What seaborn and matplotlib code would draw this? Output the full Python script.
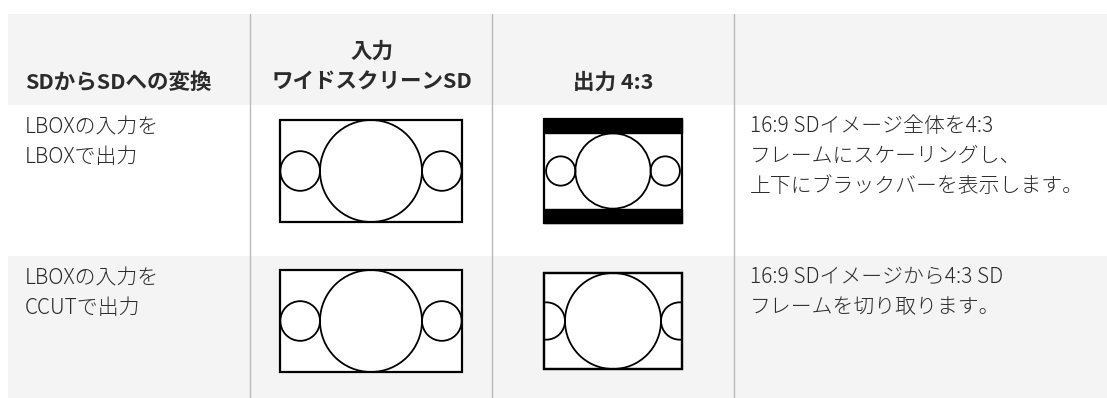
import matplotlib
matplotlib.use("Agg")
import matplotlib.pyplot as plt
import matplotlib.patches as mpatches
import seaborn as sns

sns.set_theme(style="white")
plt.rcParams['font.family'] = ['Noto Sans CJK JP', 'DejaVu Sans']

# ---- data ----
header_labels = ["SDからSDへの変換", "入力\nワイドスクリーンSD", "出力 4:3", ""]
row_labels = ["LBOXの入力を\nLBOXで出力", "LBOXの入力を\nCCUTで出力"]
output_modes = ["LBOX", "CCUT"]
descriptions = ["16:9 SDイメージ全体を4:3\nフレームにスケーリングし、\n上下にブラックバーを表示します。",
                "16:9 SDイメージから4:3 SD\nフレームを切り取ります。"]
input_aspect = 16 / 9
output_aspect = 4 / 3

W, H = 1107, 398
fig = plt.figure(figsize=(W / 100, H / 100), dpi=100)
ax = fig.add_axes([0, 0, 1, 1])
ax.set_xlim(0, W)
ax.set_ylim(H, 0)
ax.axis("off")

BG = "#f4f4f4"
LINE = "#b9b9b9"
TXT = "#2b2b2b"

# layout
col_edges = [8, 250, 492, 734, 1107]
header_top, header_bot = 14, 105
row_edges = [105, 256, 398]

# background bands
ax.add_patch(mpatches.Rectangle((col_edges[0], header_top), col_edges[-1] - col_edges[0],
                                header_bot - header_top, facecolor=BG, edgecolor="none", zorder=0))
ax.add_patch(mpatches.Rectangle((col_edges[0], row_edges[1]), col_edges[-1] - col_edges[0],
                                row_edges[2] - row_edges[1], facecolor=BG, edgecolor="none", zorder=0))
for x in col_edges[1:4]:
    ax.plot([x, x], [header_top, H], color=LINE, lw=1.0, zorder=1)

# header text
fs_h = 15.5
fs = 15
ax.text(25, 82, header_labels[0], fontsize=fs_h, fontweight="bold", color=TXT, va="center", ha="left")
cx1 = (col_edges[1] + col_edges[2]) / 2
ax.text(cx1 + 1, 51, header_labels[1].split("\n")[0], fontsize=fs_h, fontweight="bold", color=TXT, va="center", ha="center")
ax.text(cx1 + 1, 82, header_labels[1].split("\n")[1], fontsize=fs_h, fontweight="bold", color=TXT, va="center", ha="center")
cx2 = (col_edges[2] + col_edges[3]) / 2
ax.text(cx2, 82, header_labels[2], fontsize=fs_h, fontweight="bold", color=TXT, va="center", ha="center")


def draw_image(ax, cx, cy, h, clip=None):
    """16:9 test image: big circle + two small side circles, height h."""
    w = h * input_aspect
    rs = (w - h) / 4
    off = h / 2 + rs
    pats = [mpatches.Circle((cx, cy), h / 2),
            mpatches.Circle((cx - off, cy), rs),
            mpatches.Circle((cx + off, cy), rs)]
    for p in pats:
        p.set_facecolor("none")
        p.set_edgecolor("black")
        p.set_linewidth(1.3)
        p.set_zorder(3)
        ax.add_patch(p)
        if clip is not None:
            p.set_clip_path(clip)


row_centers = [171, 321]
in_h = 102
out_w = 138
for i, (lab, mode, desc) in enumerate(zip(row_labels, output_modes, descriptions)):
    top = row_edges[i]
    for j, line in enumerate(lab.split("\n")):
        ax.text(25, top + 22 + 30 * j, line, fontsize=fs, fontweight="light", color=TXT, va="center", ha="left")
    for j, line in enumerate(desc.split("\n")):
        ax.text(750, top + 21 + 30 * j, line, fontsize=fs, fontweight="light", color=TXT, va="center", ha="left")

    cy = row_centers[i]
    # input 16:9
    iw = in_h * input_aspect
    ax.add_patch(mpatches.Rectangle((cx1 - iw / 2, cy - in_h / 2), iw, in_h, facecolor="white",
                                    edgecolor="black", lw=1.6, zorder=2))
    draw_image(ax, cx1, cy, in_h)

    # output 4:3
    if mode == "LBOX":
        oh = out_w / output_aspect
        inner_h = out_w / input_aspect * 0.97
        bar = (oh - inner_h) / 2
        rect = mpatches.Rectangle((cx2 - out_w / 2, cy - oh / 2), out_w, oh, facecolor="white",
                                  edgecolor="black", lw=1.6, zorder=2)
        ax.add_patch(rect)
        ax.add_patch(mpatches.Rectangle((cx2 - out_w / 2, cy - oh / 2), out_w, bar,
                                        facecolor="black", edgecolor="black", lw=1.0, zorder=4))
        ax.add_patch(mpatches.Rectangle((cx2 - out_w / 2, cy + oh / 2 - bar), out_w, bar,
                                        facecolor="black", edgecolor="black", lw=1.0, zorder=4))
        draw_image(ax, cx2, cy, inner_h)
    else:
        oh = 96
        rect = mpatches.Rectangle((cx2 - out_w / 2, cy - oh / 2), out_w, oh, facecolor="white",
                                  edgecolor="black", lw=1.6, zorder=2)
        ax.add_patch(rect)
        clip = mpatches.Rectangle((cx2 - out_w / 2, cy - oh / 2), out_w, oh, transform=ax.transData)
        draw_image(ax, cx2, cy, oh, clip=clip)
        ax.add_patch(mpatches.Rectangle((cx2 - out_w / 2, cy - oh / 2), out_w, oh, facecolor="none",
                                        edgecolor="black", lw=1.6, zorder=5))

fig.savefig("out.png", dpi=100, facecolor="white")
